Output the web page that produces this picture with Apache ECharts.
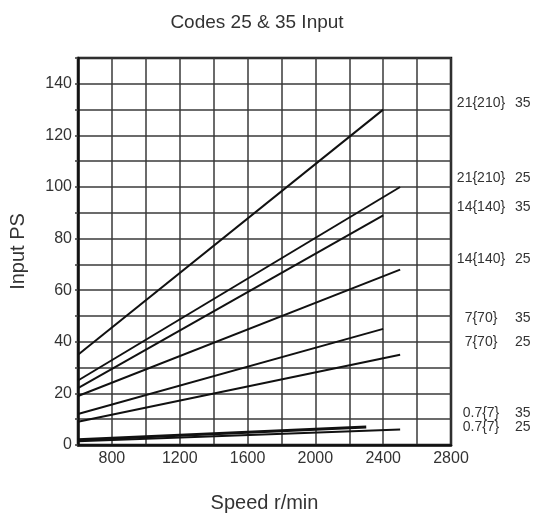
<!DOCTYPE html>
<html>
<head>
<meta charset="utf-8">
<script src="https://cdn.jsdelivr.net/npm/echarts@6/dist/echarts.min.js"></script>
<style>
  html, body { margin: 0; padding: 0; background: #fff; }
  #chart { width: 534px; height: 518px; }
</style>
</head>
<body>
<div id="chart"></div>
<script>
// 各曲线数据 (起点转速固定 600 r/min)
var startSpeed = 600;
var endSpeed = [2400, 2500, 2400, 2500, 2400, 2500, 2300, 2500];
var startPS = [35, 25, 22, 19, 12, 9, 2, 1.5];
var endPS = [130, 100, 89, 68, 45, 35, 7, 6];
var lineWidths = [2, 2, 2, 2, 2, 2, 3, 2];

// 右侧标注
var labelModel = ['21{210}', '21{210}', '14{140}', '14{140}', '7{70}', '7{70}', '0.7{7}', '0.7{7}'];
var labelCode = ['35', '25', '35', '25', '35', '25', '35', '25'];
var labelPS = [132.5, 103.5, 92, 72, 49, 40, 12.2, 6.9];

var textColor = '#333';
var gridColor = '#3a3a3a';
var fontFamily = '"Liberation Sans", Arial, sans-serif';

var chart = echarts.init(document.getElementById('chart'));

var series = [];
for (var i = 0; i < endSpeed.length; i++) {
  series.push({
    type: 'line',
    name: labelModel[i] + ' ' + labelCode[i],
    data: [[startSpeed, startPS[i]], [endSpeed[i], endPS[i]]],
    showSymbol: false,
    silent: true,
    lineStyle: { color: '#111', width: lineWidths[i] }
  });
}

var option = {
  animation: false,
  textStyle: { fontFamily: fontFamily },
  title: {
    text: 'Codes 25 & 35 Input',
    left: 252,
    textAlign: 'center',
    top: 8,
    textStyle: { fontSize: 19, fontWeight: 'normal', color: textColor, fontFamily: fontFamily }
  },
  grid: {
    left: 78,
    top: 58,
    width: 373,
    height: 392,
    show: true,
    borderColor: '#111',
    borderWidth: 2.5
  },
  xAxis: {
    type: 'value',
    min: 600,
    max: 2800,
    interval: 200,
    name: 'Speed r/min',
    nameLocation: 'middle',
    nameGap: 48,
    nameTextStyle: { fontSize: 20, color: textColor },
    axisLine: { show: true, lineStyle: { color: '#111', width: 2.5 } },
    axisTick: { show: false },
    axisLabel: {
      fontSize: 16,
      color: textColor,
      margin: 6,
      formatter: function (v) { return (v % 400 === 0) ? String(v) : ''; }
    },
    splitLine: { show: true, lineStyle: { color: gridColor, width: 1.5 } }
  },
  yAxis: {
    type: 'value',
    min: 0,
    max: 150,
    interval: 10,
    name: 'Input PS',
    nameLocation: 'middle',
    nameGap: 50,
    nameTextStyle: { fontSize: 20, color: textColor },
    axisLine: { show: true, lineStyle: { color: '#111', width: 2.5 } },
    axisTick: { show: true, length: 3, lineStyle: { color: gridColor, width: 1.5 } },
    axisLabel: {
      fontSize: 16,
      color: textColor,
      margin: 6,
      formatter: function (v) { return (v % 20 === 0 && v < 150) ? String(v) : ''; }
    },
    splitLine: { show: true, lineStyle: { color: gridColor, width: 1.5 } }
  },
  series: series
};
chart.setOption(option, true);

// 右侧标注按 y 值换算像素位置
var graphics = [];
for (var j = 0; j < labelPS.length; j++) {
  var py = chart.convertToPixel({ gridIndex: 0 }, [2800, labelPS[j]])[1];
  graphics.push({
    type: 'text', x: 481, y: py, silent: true,
    style: { text: labelModel[j], fill: textColor, font: '14px ' + fontFamily, align: 'center', verticalAlign: 'middle' }
  });
  graphics.push({
    type: 'text', x: 515, y: py, silent: true,
    style: { text: labelCode[j], fill: textColor, font: '14px ' + fontFamily, align: 'left', verticalAlign: 'middle' }
  });
}
chart.setOption({ graphic: graphics });
</script>
</body>
</html>
